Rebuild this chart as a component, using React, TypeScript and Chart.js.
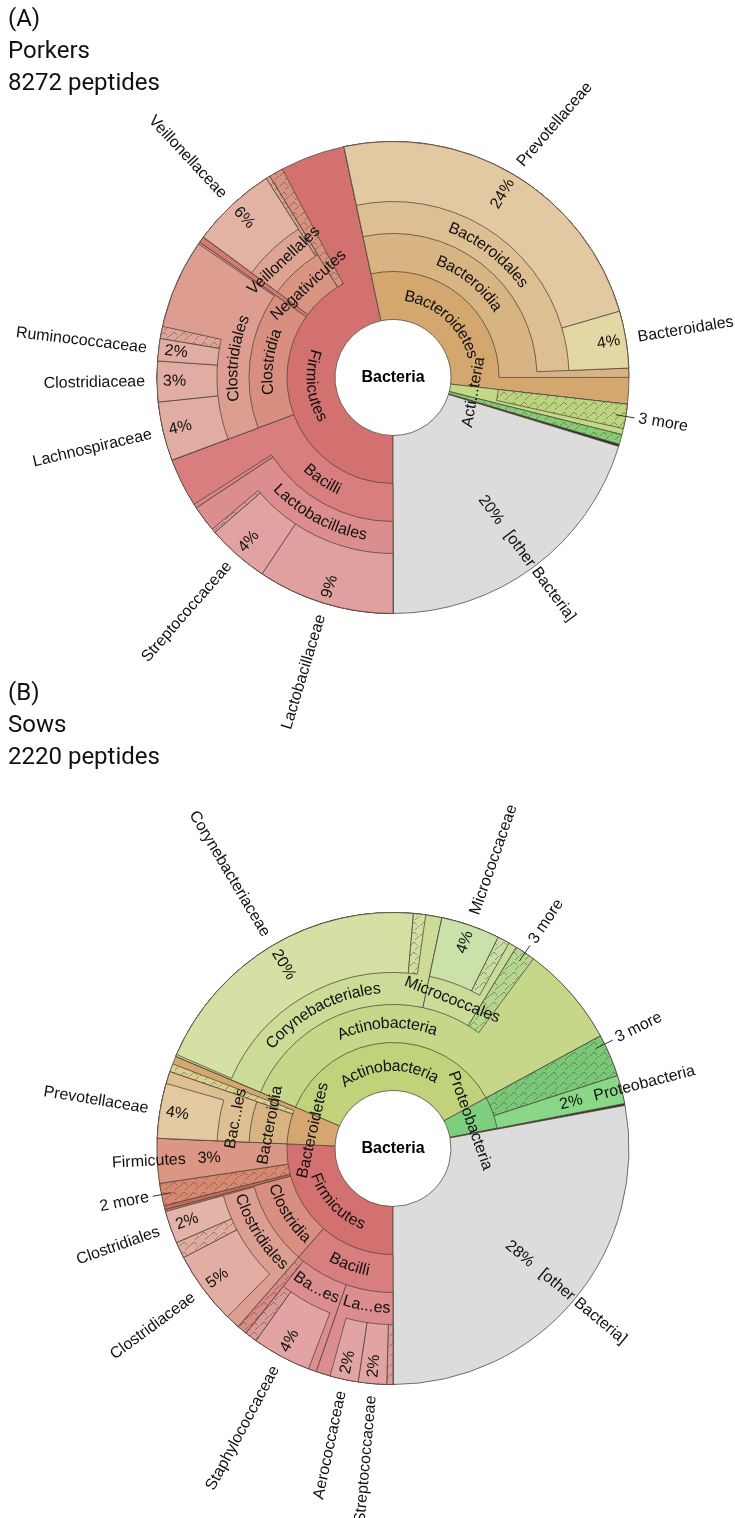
import React, { useEffect, useRef } from 'react';
import { Chart, registerables } from 'chart.js';

Chart.register(...registerables);

// Node names per ring, clockwise from 6 o'clock. '' = no node at this depth,
// '-' = unlabelled node, '*' = collapsed (hatched) node, 'N more' = collapsed with a call-out.
// Values are % of all peptides of the sample.

// ---------- (A) Porkers, 8272 peptides ----------
const A_PHYLUM_NAMES = ['Firmicutes', 'Bacteroidetes', 'Acti...teria', '*', '-', '[other Bacteria]'];
const A_PHYLUM_VALUES = [46.67, 30.14, 2.08, 0.69, 0.14, 20.28];
const A_CLASS_NAMES = ['Bacilli', 'Clostridia', '-', 'Negativicutes', '*', '', 'Bacteroidia', '', '3 more', ''];
const A_CLASS_VALUES = [19.31, 15.42, 0.42, 6.11, 0.97, 4.44, 28.33, 1.81, 1.67, 21.53];
const A_ORDER_NAMES = ['Lactobacillales', '-', '', 'Clostridiales', '', 'Veillonellales', '*', '', 'Bacteroidales', ''];
const A_ORDER_VALUES = [15.69, 0.28, 3.33, 15.28, 0.56, 5.83, 0.28, 5.42, 27.69, 25.64];
const A_FAMILY_NAMES = ['Lactobacillaceae', 'Streptococcaceae', '*', '', 'Lachnospiraceae', 'Clostridiaceae', 'Ruminococcaceae', '*', '', 'Veillonellaceae', '', 'Prevotellaceae', 'Bacteroidales', ''];
const A_FAMILY_VALUES = [9.36, 4.25, 0.28, 5.42, 4.03, 2.78, 1.53, 0.83, 6.67, 5.83, 5.69, 23.81, 3.89, 25.64];

// ---------- (B) Sows, 2220 peptides ----------
const B_PHYLUM_NAMES = ['Firmicutes', 'Bacteroidetes', 'Actinobacteria', 'Proteobacteria', '-', '[other Bacteria]'];
const B_PHYLUM_VALUES = [25.69, 5.69, 35.69, 4.86, 0.14, 27.92];
const B_CLASS_NAMES = ['Bacilli', 'Clostridia', '-', '2 more', 'Firmicutes', 'Bacteroidia', '*', '', 'Actinobacteria', '3 more', 'Proteobacteria', ''];
const B_CLASS_VALUES = [11.39, 9.44, 0.28, 1.53, 3.06, 4.58, 0.56, 0.56, 35.69, 2.92, 1.94, 28.06];
const B_ORDER_NAMES = ['La...es', 'Ba...es', '*', 'Clostridiales', '', 'Bac...les', '', 'Corynebacteriales', 'Micrococcales', '3 more', ''];
const B_ORDER_VALUES = [5.28, 5.42, 0.69, 9.31, 5.0, 4.58, 1.11, 21.94, 5.42, 1.39, 39.86];
const B_FAMILY_NAMES = ['*', 'Streptococcaceae', 'Aerococcaceae', '', 'Staphylococcaceae', '*', '', 'Clostridiaceae', '*', 'Clostridiales', '', 'Prevotellaceae', '', 'Corynebacteriaceae', '*', '', 'Micrococcaceae', '*', ''];
const B_FAMILY_VALUES = [0.42, 1.94, 1.94, 1.53, 4.03, 0.83, 1.67, 5.0, 1.11, 2.22, 5.0, 3.75, 2.08, 19.86, 0.83, 1.11, 4.03, 0.83, 41.81];

// ---------- styles ----------
const A_PHYLUM_COLORS = ['#d37170', '#d3a76e', '#c3d985', '#86cc74', '#2b2b2b', '#dcdcdc'];
const A_CLASS_COLORS = ['#d87e7e', '#d98f80', '#d57a72', '#d99582', '#d8927f', null, '#d8b482', null, '#bdd47f', null];
const A_ORDER_COLORS = ['#dc8d8d', '#d98585', null, '#dd9d90', null, '#dda493', '#dba08e', null, '#ddbf91', null];
const A_FAMILY_COLORS = ['#e1a0a0', '#e1a3a2', '#dd9898', null, '#e1ada3', '#e1ada3', '#e1ada3', '#dda598', null, '#e2b2a4', null, '#e2c9a1', '#e3d8a4', null];

const B_PHYLUM_COLORS = ['#d37170', '#d3a76e', '#c0d27a', '#7dcf7d', '#2b2b2b', '#dcdcdc'];
const B_CLASS_COLORS = ['#d87e7e', '#d98f80', '#c96b5c', '#d68870', '#dc9784', '#d8b482', '#d9cf8e', null, '#c7d789', '#78c878', '#88d888', null];
const B_ORDER_COLORS = ['#dc8e8e', '#dc8e8e', '#d88a84', '#dd9e92', null, '#ddbf91', null, '#ccdb95', '#c9dc98', '#b4d68e', null];
const B_FAMILY_COLORS = ['#de9c9c', '#e2a3a3', '#e2a3a3', null, '#e2a3a3', '#dc9a96', null, '#e2aea3', '#e0aca0', '#e3b3a8', null, '#e2c9a1', null, '#d4e0a4', '#d2dfa0', null, '#cbe1aa', '#c6dea2', null];

// outer labels that Krona nudges (degrees), keyed "ring:name"
const A_LABEL_SHIFT: Record<string, number> = {};
const A_LABEL_TILT: Record<string, number> = { '3:Prevotellaceae': 10 };
const B_LABEL_SHIFT: Record<string, number> = { '1:3 more': -3 };
const B_LABEL_TILT: Record<string, number> = {};

const RING_THICKNESS = [48, 38, 32, 60]; // phylum, class, order, family (px)
const OUTER_RADIUS = 236;
const HOLE_RADIUS = 58;
const FONT = '"Liberation Sans", Arial, sans-serif';
const BORDER = 'rgba(80,68,60,0.85)';

type Ring = { names: string[]; values: number[]; colors: (string | null)[] };

const A_RINGS: Ring[] = [
  { names: A_PHYLUM_NAMES, values: A_PHYLUM_VALUES, colors: A_PHYLUM_COLORS },
  { names: A_CLASS_NAMES, values: A_CLASS_VALUES, colors: A_CLASS_COLORS },
  { names: A_ORDER_NAMES, values: A_ORDER_VALUES, colors: A_ORDER_COLORS },
  { names: A_FAMILY_NAMES, values: A_FAMILY_VALUES, colors: A_FAMILY_COLORS },
];
const B_RINGS: Ring[] = [
  { names: B_PHYLUM_NAMES, values: B_PHYLUM_VALUES, colors: B_PHYLUM_COLORS },
  { names: B_CLASS_NAMES, values: B_CLASS_VALUES, colors: B_CLASS_COLORS },
  { names: B_ORDER_NAMES, values: B_ORDER_VALUES, colors: B_ORDER_COLORS },
  { names: B_FAMILY_NAMES, values: B_FAMILY_VALUES, colors: B_FAMILY_COLORS },
];

const isHatched = (n: string) => n === '*' || / more$/.test(n);

function makeHatch(color: string): CanvasPattern {
  const s = 10;
  const c = document.createElement('canvas');
  c.width = s;
  c.height = s;
  const g = c.getContext('2d')!;
  g.fillStyle = color;
  g.fillRect(0, 0, s, s);
  g.strokeStyle = 'rgba(60,60,50,0.45)';
  g.lineWidth = 1;
  g.beginPath();
  g.moveTo(0, 6); g.lineTo(4, 2); g.lineTo(7, 5);
  g.moveTo(5, 10); g.lineTo(9, 6);
  g.stroke();
  return g.createPattern(c, 'repeat') as CanvasPattern;
}

// radial text; mode 'in' = inner end of the text at radius r, 'out' = outer end at r, 'mid' = centred
function radialText(ctx: CanvasRenderingContext2D, cx: number, cy: number, theta: number, text: string, r: number, mode: 'in' | 'out' | 'mid', tilt = 0) {
  const w = ctx.measureText(text).width;
  const right = Math.sin(theta) >= 0;
  ctx.save();
  ctx.translate(cx + r * Math.sin(theta), cy - r * Math.cos(theta));
  ctx.rotate((right ? theta - Math.PI / 2 : theta + Math.PI / 2) + tilt);
  ctx.textAlign = 'left';
  ctx.textBaseline = 'middle';
  let x0: number;
  if (right) x0 = mode === 'in' ? 0 : mode === 'out' ? -w : -w / 2;
  else x0 = mode === 'in' ? -w : mode === 'out' ? 0 : -w / 2;
  ctx.fillText(text, x0, 0);
  ctx.restore();
}

function tangentText(ctx: CanvasRenderingContext2D, cx: number, cy: number, text: string, r: number, mid: number, span: number) {
  const w = ctx.measureText(text).width;
  const top = Math.cos(mid) > 0;
  ctx.textAlign = 'center';
  ctx.textBaseline = 'middle';
  const put = (s: string, ang: number) => {
    ctx.save();
    ctx.translate(cx, cy);
    if (top) { ctx.rotate(ang); ctx.fillText(s, 0, -r); }
    else { ctx.rotate(ang + Math.PI); ctx.fillText(s, 0, r); }
    ctx.restore();
  };
  if (w > r * span * 0.95) { put(text, mid); return; }
  let acc = 0;
  for (const ch of text) {
    const cw = ctx.measureText(ch).width;
    const off = (acc + cw / 2 - w / 2) / r;
    put(ch, top ? mid + off : mid - off);
    acc += cw;
  }
}

function makeLabelPlugin(rings: Ring[], centre: string, shifts: Record<string, number>, tilts: Record<string, number>) {
  return {
    id: 'kronaLabels',
    afterDatasetsUpdate(chart: any) {
      // every node is a wedge from its own depth out to the rim; deeper nodes cover it
      const n = chart.data.datasets.length;
      for (let i = 0; i < n; i++) {
        chart.getDatasetMeta(i).data.forEach((el: any) => { el.outerRadius = OUTER_RADIUS; });
      }
    },
    afterDatasetsDraw(chart: any) {
      const ctx: CanvasRenderingContext2D = chart.ctx;
      const n = rings.length;
      const metas = rings.map((_, k) => chart.getDatasetMeta(n - 1 - k));
      const R = OUTER_RADIUS;
      const cx = metas[0].data[0].x;
      const cy = metas[0].data[0].y;
      const eps = 0.003;
      const rad = Math.PI / 180;
      ctx.save();
      ctx.fillStyle = '#111';
      ctx.font = `16px ${FONT}`;
      rings.forEach((ring, k) => {
        const ctrl = metas[k].controller;
        const rin = ctrl.innerRadius;
        const rout = ctrl.outerRadius;
        ring.names.forEach((name, j) => {
          if (!name || name === '-' || name === '*') return;
          const el = metas[k].data[j];
          const a0 = el.startAngle + Math.PI / 2;
          const a1 = el.endAngle + Math.PI / 2;
          const mid = (a0 + a1) / 2;
          const key = `${k}:${name}`;
          const shifted = mid + (shifts[key] || 0) * rad;
          const tilt = (tilts[key] || 0) * rad;
          if (/ more$/.test(name)) {
            const s = Math.sin(shifted), c = Math.cos(shifted);
            ctx.beginPath();
            ctx.moveTo(cx + (R - 10) * s, cy - (R - 10) * c);
            ctx.lineTo(cx + (R + 9) * s, cy - (R + 9) * c);
            ctx.strokeStyle = '#333';
            ctx.lineWidth = 1;
            ctx.stroke();
            radialText(ctx, cx, cy, shifted, name, R + 13, 'in');
            return;
          }
          const leaf = k === n - 1 || !rings[k + 1].names.some((nm, i) => {
            if (!nm) return false;
            const e2 = metas[k + 1].data[i];
            return e2.startAngle < el.endAngle - eps && e2.endAngle > el.startAngle + eps;
          });
          if (leaf) {
            const pct = Math.round(ring.values[j]) + '%';
            if (k === n - 1) {
              radialText(ctx, cx, cy, mid, pct, R - 6, 'out');
              radialText(ctx, cx, cy, shifted, name, R + 12, 'in', tilt);
            } else {
              const P = rin + 0.6 * (R - rin);
              const pw = ctx.measureText(pct).width;
              radialText(ctx, cx, cy, mid, pct, P, 'mid');
              radialText(ctx, cx, cy, shifted, name, P + pw / 2 + 12, 'in', tilt);
            }
          } else {
            tangentText(ctx, cx, cy, name, (rin + rout) / 2, mid, a1 - a0);
          }
        });
      });
      ctx.font = `bold 16px ${FONT}`;
      ctx.textAlign = 'center';
      ctx.textBaseline = 'middle';
      ctx.fillStyle = '#000';
      ctx.fillText(centre, cx, cy);
      ctx.restore();
    },
  };
}

function Krona({ rings, centre, shifts, tilts, top, height, padding }: { rings: Ring[]; centre: string; shifts: Record<string, number>; tilts: Record<string, number>; top: number; height: number; padding: any }) {
  const ref = useRef<HTMLCanvasElement>(null);
  useEffect(() => {
    const outerFirst = rings.map((r, k) => ({ ring: r, k })).reverse();
    const chart = new Chart(ref.current!, {
      type: 'doughnut',
      data: {
        labels: outerFirst[0].ring.names,
        datasets: outerFirst.map(({ ring, k }) => ({
          data: ring.values,
          backgroundColor: ring.names.map((nm, i) =>
            nm === '' ? 'rgba(0,0,0,0)' : isHatched(nm) ? makeHatch(ring.colors[i] as string) : (ring.colors[i] as string)),
          borderColor: ring.names.map((nm) => (nm === '' ? 'rgba(0,0,0,0)' : BORDER)),
          borderWidth: ring.names.map((nm) => (nm === '' ? 0 : 0.9)),
          weight: RING_THICKNESS[k],
        })),
      },
      options: {
        responsive: false,
        animation: false,
        events: [],
        rotation: 180,
        radius: OUTER_RADIUS,
        cutout: (HOLE_RADIUS / OUTER_RADIUS) * 100 + '%',
        layout: { padding },
        plugins: { legend: { display: false }, tooltip: { enabled: false } },
      } as any,
      plugins: [makeLabelPlugin(rings, centre, shifts, tilts)],
    });
    return () => chart.destroy();
  }, []);
  return (
    <canvas
      ref={ref}
      width={735}
      height={height}
      style={{ position: 'absolute', left: 0, top, width: 735, height }}
    />
  );
}

const titleStyle: React.CSSProperties = {
  position: 'absolute',
  left: 8,
  font: '24px Roboto, sans-serif',
  lineHeight: '32px',
  color: '#111',
  zIndex: 2,
};

export default function App() {
  return (
    <div style={{ position: 'absolute', left: 0, top: 0, width: 735, height: 1518, background: '#fff', overflow: 'hidden' }}>
      <Krona rings={A_RINGS} centre="Bacteria" shifts={A_LABEL_SHIFT} tilts={A_LABEL_TILT} top={0} height={760} padding={{ top: 55, bottom: 60, left: 51, right: 0 }} />
      <Krona rings={B_RINGS} centre="Bacteria" shifts={B_LABEL_SHIFT} tilts={B_LABEL_TILT} top={660} height={858} padding={{ top: 119, bottom: 0, left: 51, right: 0 }} />
      <div style={{ ...titleStyle, top: 2 }}>
        <div>(A)</div>
        <div>Porkers</div>
        <div>8272 peptides</div>
      </div>
      <div style={{ ...titleStyle, top: 676 }}>
        <div>(B)</div>
        <div>Sows</div>
        <div>2220 peptides</div>
      </div>
    </div>
  );
}
